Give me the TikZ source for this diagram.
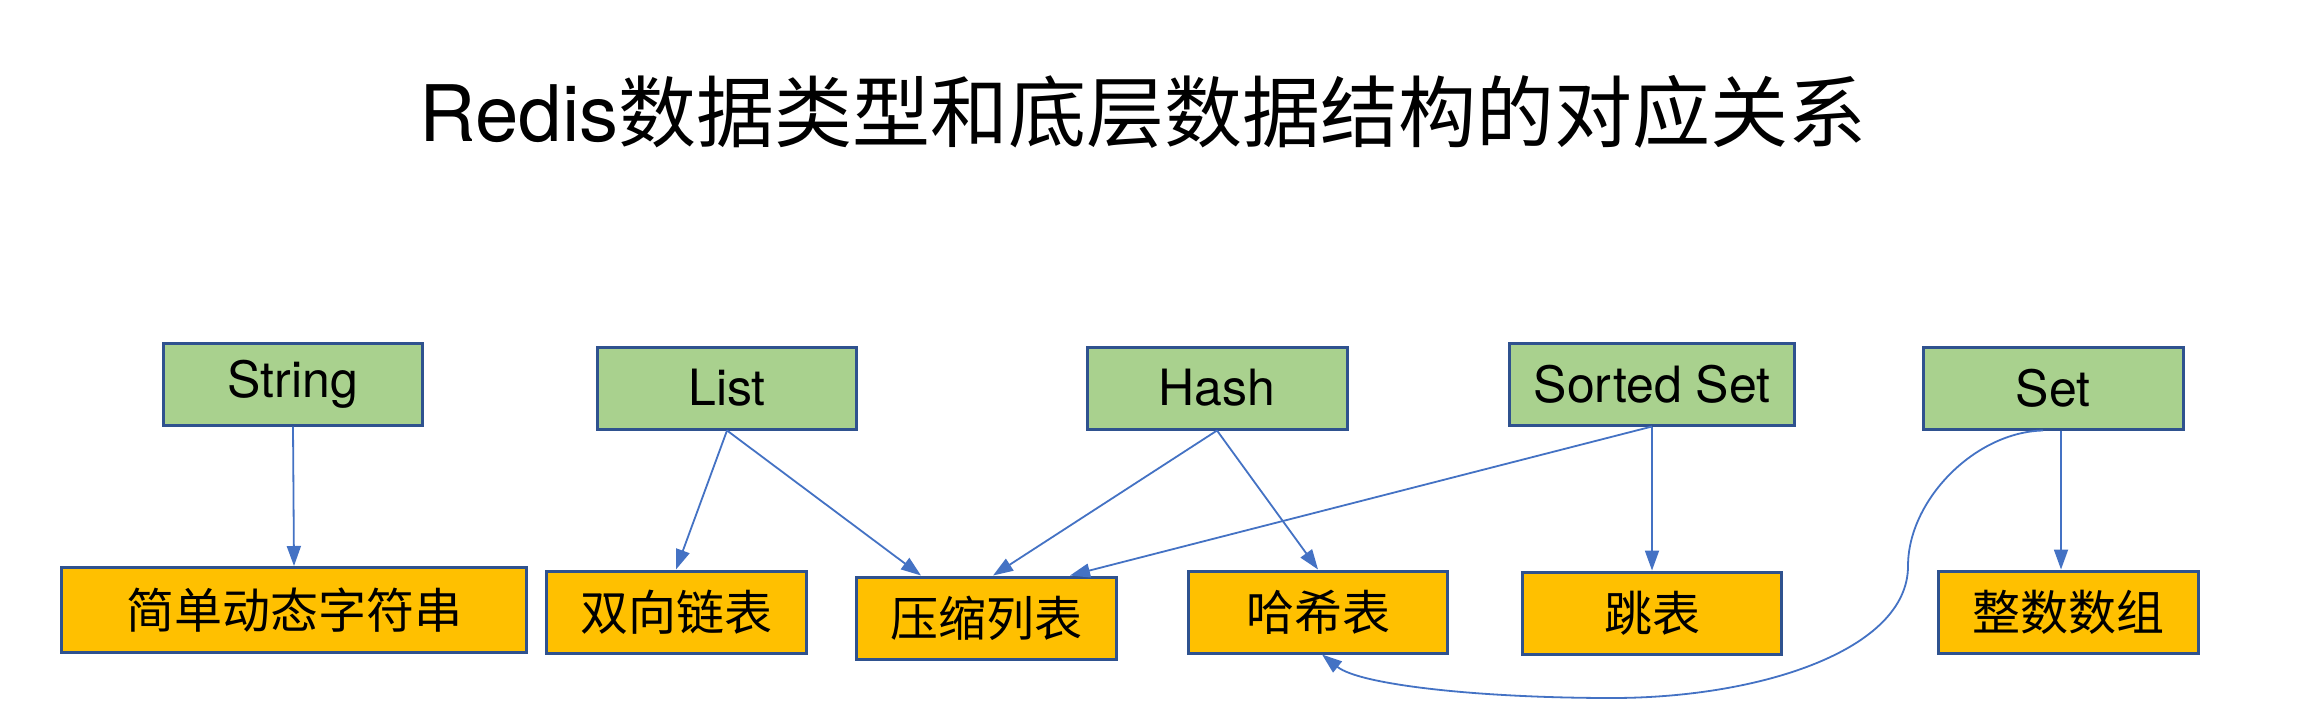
\documentclass[tikz,border=0pt]{standalone}
\usepackage{fontspec}
\setmainfont{Noto Sans CJK SC}
\newfontfamily\latinfont{TeX Gyre Heros}
\usetikzlibrary{arrows.meta}
\definecolor{boxline}{HTML}{2F528F}
\definecolor{conn}{HTML}{4472C4}
\definecolor{typefill}{HTML}{A9D18E}
\definecolor{structfill}{HTML}{FFC000}
\begin{document}
\begin{tikzpicture}[x=1pt,y=-1pt,
  typebox/.style={draw=boxline,line width=3pt,fill=typefill,inner sep=0pt,minimum height=82pt,font=\latinfont\fontsize{50}{56}\selectfont},
  structbox/.style={draw=boxline,line width=3pt,fill=structfill,inner sep=0pt,minimum height=82pt,font=\fontsize{48}{54}\selectfont},
  arr/.style={draw=conn,line width=1.8pt,-{Triangle[length=20pt,width=14pt]}}]
\fill[white] (0,0) rectangle (2302,724);
\useasboundingbox (0,0) rectangle (2302,724);
\node[font=\fontsize{78}{86}\selectfont,inner sep=0pt] (title) at (1143,112) {{\latinfont Redis}数据类型和底层数据结构的对应关系};
% types
\node[typebox,minimum width=259pt] (str) at (293,384) {String};
\node[typebox,minimum width=259pt] (lst) at (727,388) {List};
\node[typebox,minimum width=260pt] (hsh) at (1217,388) {Hash};
\node[typebox,minimum width=285pt] (zst) at (1652,384) {Sorted Set};
\node[typebox,minimum width=260pt] (set) at (2053,388) {Set};
% structures
\node[structbox,minimum width=465pt,minimum height=85pt] (sds) at (294,610) {简单动态字符串};
\node[structbox,minimum width=260pt] (dll) at (676,612) {双向链表};
\node[structbox,minimum width=260pt] (zip) at (986,618) {压缩列表};
\node[structbox,minimum width=259pt] (ht) at (1318,612) {哈希表};
\node[structbox,minimum width=259pt] (skl) at (1652,613) {跳表};
\node[structbox,minimum width=260pt] (ints) at (2068,612) {整数数组};
% connectors
\draw[arr] (str.south) -- (sds.north);
\draw[arr] (lst.south) -- (dll.north);
\draw[arr] (lst.south) -- ([xshift=-65pt]zip.north);
\draw[arr] (hsh.south) -- ([xshift=7pt]zip.north);
\draw[arr] (hsh.south) -- (ht.north);
\draw[arr] (zst.south) -- ([xshift=84pt]zip.north);
\draw[arr] (zst.south) -- (skl.north);
\draw[arr] ([xshift=8pt]set.south) -- ([xshift=-7pt]ints.north);
\draw[arr] ([xshift=-10pt]set.south) .. controls (1975,432) and (1908,500) .. (1908,566)
  .. controls (1908,650) and (1760,698) .. (1612,698)
  .. controls (1480,698) and (1360,685) .. ([xshift=4pt]ht.south);
\end{tikzpicture}
\end{document}
